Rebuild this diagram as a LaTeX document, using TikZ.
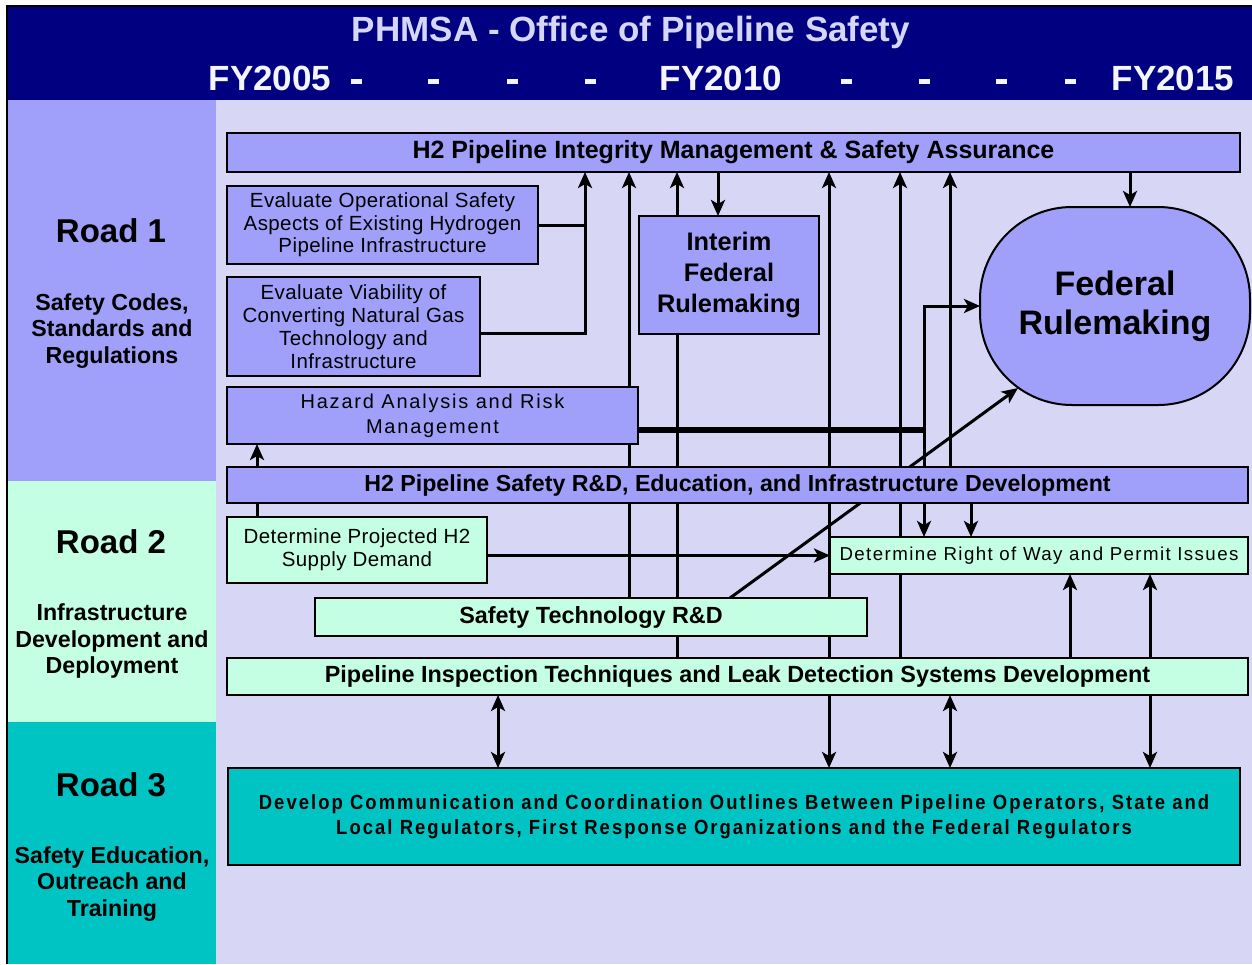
\documentclass[tikz,border=0pt]{standalone}
\usepackage{fontspec}
\setmainfont{Liberation Sans}
\newfontfamily\spacedfont[LetterSpace=9]{Liberation Sans}
\newfontfamily\rowfont[LetterSpace=7.5]{Liberation Sans}
\newfontfamily\lightspaced[LetterSpace=2]{Liberation Sans}
\newfontfamily\condbold[FakeStretch=0.9,LetterSpace=10]{Liberation Sans Bold}
\usetikzlibrary{arrows.meta}
\pgfdeclarelayer{canvas}
\pgfdeclarelayer{wires}
\pgfsetlayers{canvas,wires,main}
\definecolor{navy}{RGB}{0,0,128}
\definecolor{peri}{RGB}{160,160,250}
\definecolor{bgl}{RGB}{215,215,245}
\definecolor{mint}{RGB}{196,255,228}
\definecolor{teal2}{RGB}{0,196,196}
\definecolor{hdrtxt}{RGB}{214,214,248}
\definecolor{fytxt}{RGB}{245,245,255}
\newcommand\fsz[2]{\fontsize{#1}{#2}\selectfont}
\tikzset{
  box/.style={draw=black, line width=2pt, inner sep=0pt, outer sep=0pt, anchor=north west, align=center, text=black},
  conn/.style={line width=3pt, draw=black},
  thickconn/.style={line width=6pt, draw=black},
  arr/.style={conn, -{Stealth[length=16pt,width=14pt,inset=4pt]}},
  darr/.style={conn, {Stealth[length=16pt,width=14pt,inset=4pt]}-{Stealth[length=16pt,width=14pt,inset=4pt]}},
  roadtitle/.style={font=\bfseries\fsz{33}{38}, align=center, inner sep=0pt},
  roadsub/.style={font=\bfseries\fsz{23.2}{26.5}, align=center, inner sep=0pt},
  hdr/.style={font=\bfseries\fsz{35}{40}, inner sep=0pt},
  fydash/.style={fill=fytxt, minimum width=11pt, minimum height=5pt, inner sep=0pt}
}
\begin{document}
\begin{tikzpicture}[x=1pt,y=-1pt]
\useasboundingbox (0,0) rectangle (1252,964);
\begin{pgfonlayer}{canvas}
\fill[white] (0,0) rectangle (1252,964);
\fill[bgl] (216,100) rectangle (1252,964);
\fill[peri] (7,100) rectangle (216,481);
\fill[mint] (7,481) rectangle (216,722);
\fill[teal2] (7,722) rectangle (216,964);
\fill[navy] (7,6) rectangle (1252,100);
\draw[line width=2.5pt] (7,964) -- (7,6) -- (1252,6);
\end{pgfonlayer}
% header texts
\node[hdr, text=hdrtxt] (title) at (631,32) {PHMSA - Office of Pipeline Safety};
\node[hdr, text=fytxt] (fy05) at (270,78) {FY2005};
\node[hdr, text=fytxt] (fy10) at (721,78) {FY2010};
\node[hdr, text=fytxt] (fy15) at (1173,78) {FY2015};
\foreach \dx/\nm in {356/d1,433/d2,512/d3,590/d4,846/d5,924/d6,1001/d7,1070/d8}
  \node[fydash] (\nm) at (\dx,81) {};
% road labels
\node[roadtitle] (r1) at (111,231) {Road 1};
\node[roadsub] (r1s) at (112,331) {Safety Codes,\\Standards and\\Regulations};
\node[roadtitle] (r2) at (111,542) {Road 2};
\node[roadsub] (r2s) at (112,641) {Infrastructure\\Development and\\Deployment};
\node[roadtitle] (r3) at (111,785) {Road 3};
\node[roadsub] (r3s) at (112,884) {Safety Education,\\Outreach and\\Training};
% helper coordinates for connector columns
\coordinate (v257) at (257,0);
\coordinate (v498) at (498,0);
\coordinate (v585) at (585,0);
\coordinate (v629) at (629,0);
\coordinate (v677) at (677,0);
\coordinate (v718) at (718,0);
\coordinate (v730) at (730,0);
\coordinate (v829) at (829,0);
\coordinate (v900) at (900,0);
\coordinate (v924) at (924,0);
\coordinate (v950) at (950,0);
\coordinate (v971) at (971,0);
\coordinate (v1070) at (1070,0);
\coordinate (v1130) at (1130,0);
\coordinate (v1150) at (1150,0);
\coordinate (frtip) at (1018,388);
% boxes
\node[box, fill=peri, minimum width=1013pt, minimum height=39pt, font=\bfseries\fsz{25}{28}] (pimsa) at (227,133) {H2 Pipeline Integrity Management \& Safety Assurance};
\node[box, fill=peri, minimum width=311pt, minimum height=78pt, font=\lightspaced\fsz{20.5}{22.5}] (evalop) at (227,186) {Evaluate Operational Safety\\Aspects of Existing Hydrogen\\Pipeline Infrastructure};
\node[box, fill=peri, minimum width=253pt, minimum height=99pt, font=\lightspaced\fsz{20.5}{23}] (evalviab) at (227,277) {Evaluate Viability of\\Converting Natural Gas\\Technology and\\Infrastructure};
\node[box, fill=peri, minimum width=411pt, minimum height=57pt, font=\spacedfont\fsz{20}{25}] (hazard) at (227,387) {Hazard Analysis and Risk\\Management};
\node[box, fill=peri, minimum width=180pt, minimum height=118pt, font=\bfseries\fsz{25.4}{31}] (interim) at (639,216) {Interim\\Federal\\Rulemaking};
\node[box, fill=peri, rounded corners=92pt, minimum width=270pt, minimum height=198pt, font=\bfseries\fsz{34}{39}] (fedrule) at (980,207) {Federal\\Rulemaking};
\node[box, fill=peri, minimum width=1021pt, minimum height=36pt, font=\bfseries\fsz{23.2}{26}] (rnd) at (227,467) {H2 Pipeline Safety R\&D, Education, and Infrastructure Development};
\node[box, fill=mint, minimum width=260pt, minimum height=66pt, font=\lightspaced\fsz{20.5}{23}] (dproj) at (227,517) {Determine Projected H2\\Supply Demand};
\node[box, fill=mint, minimum width=418pt, minimum height=37pt, font=\rowfont\fsz{18.7}{22}] (row) at (830,537) {Determine Right of Way and Permit Issues};
\node[box, fill=mint, minimum width=552pt, minimum height=38pt, font=\bfseries\fsz{23.4}{26}] (stech) at (315,598) {Safety Technology R\&D};
\node[box, fill=mint, minimum width=1021pt, minimum height=37pt, font=\bfseries\fsz{23.4}{26}] (pinsp) at (227,658) {Pipeline Inspection Techniques and Leak Detection Systems Development};
\node[box, fill=teal2, minimum width=1012pt, minimum height=97pt, font=\condbold\fsz{20.5}{25}] (devcomm) at (228,768) {Develop Communication and Coordination Outlines Between Pipeline Operators, State and\\Local Regulators, First Response Organizations and the Federal Regulators};
% connectors (beneath boxes)
\begin{pgfonlayer}{wires}
\draw[conn] (evalop.east) -- (evalop.east -| v585);
\draw[arr] ([yshift=-6.5pt]evalviab.east) -| (pimsa.south -| v585);
\draw[arr] (stech.north -| v629) -- (pimsa.south -| v629);
\draw[conn] (pinsp.north -| v677) -- (interim.south -| v677);
\draw[arr] (interim.north -| v677) -- (pimsa.south -| v677);
\draw[arr] (pimsa.south -| v718) -- (interim.north -| v718);
\draw[darr] (pimsa.south -| v829) -- (devcomm.north -| v829);
\draw[arr] (pinsp.north -| v900) -- (pimsa.south -| v900);
\draw[arr] (rnd.north -| v950) -- (pimsa.south -| v950);
\draw[thickconn] ([yshift=-14pt]hazard.east) -- ([yshift=-14pt]hazard.east -| v924);
\draw[arr] ([yshift=-14pt]hazard.east -| v924) |- (fedrule.west);
\draw[conn] ([yshift=-14pt]hazard.east -| v924) -- (rnd.north -| v924);
\draw[arr] (rnd.south -| v924) -- (row.north -| v924);
\draw[arr] (rnd.south -| v971) -- (row.north -| v971);
\draw[arr] (pimsa.south -| v1130) -- (fedrule.north -| v1130);
\draw[arr] (stech.north -| v730) -- (frtip);
\draw[arr] (row.west -| dproj.east) -- (row.west);
\draw[arr] (dproj.north -| v257) -- (hazard.south -| v257);
\draw[arr] (pinsp.north -| v1070) -- (row.south -| v1070);
\draw[arr] (pinsp.north -| v1150) -- (row.south -| v1150);
\draw[darr] (pinsp.south -| v498) -- (devcomm.north -| v498);
\draw[darr] (pinsp.south -| v950) -- (devcomm.north -| v950);
\draw[arr] (pinsp.south -| v1150) -- (devcomm.north -| v1150);
\end{pgfonlayer}
\end{tikzpicture}
\end{document}
